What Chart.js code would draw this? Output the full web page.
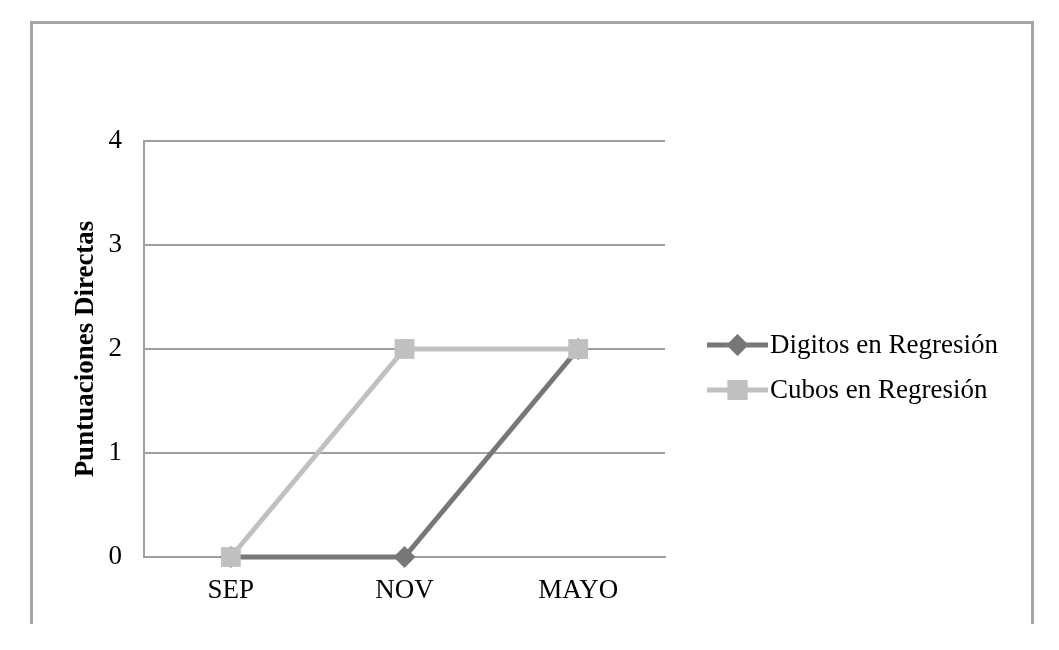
<!DOCTYPE html>
<html lang="es">
<head>
    <meta charset="UTF-8">
    <title>Puntuaciones Directas</title>
    <script src="https://cdn.jsdelivr.net/npm/chart.js@4.4.0/dist/chart.umd.min.js"></script>
    <style>
        body {
            margin: 0;
            background: #fff;
        }
        .wrap {
            position: relative;
            width: 1059px;
            height: 650px;
        }
        .frame {
            position: absolute;
            left: 30px;
            top: 21px;
            width: 998px;
            height: 600px;
            border: 3px solid #a6a6a6;
            border-bottom: none;
        }
        canvas {
            position: absolute;
            left: 0;
            top: 0;
        }
    </style>
</head>
<body>
    <div class="wrap">
        <div class="frame"></div>
        <canvas id="chart" width="1059" height="650"></canvas>
    </div>

    <script>
        'use strict';

        // categorias y series
        const meses = ['SEP', 'NOV', 'MAYO'];
        const digitos = [0, 0, 2];
        const cubos = [0, 2, 2];
        const yTicks = [0, 1, 2, 3, 4];

        const FONT = "'Liberation Serif', 'Times New Roman', serif";
        const DARK = '#777777';
        const LIGHT = '#c0c0c0';

        // leyenda a la derecha: linea + marcador + texto
        const legendaPlugin = {
            id: 'legenda',
            afterDraw(chart) {
                const ctx = chart.ctx;
                const x0 = 707, x1 = 768;
                const filas = [345, 390];
                chart.data.datasets.forEach((ds, i) => {
                    const y = filas[i];
                    ctx.save();
                    ctx.strokeStyle = ds.borderColor;
                    ctx.lineWidth = ds.borderWidth;
                    ctx.beginPath();
                    ctx.moveTo(x0, y);
                    ctx.lineTo(x1, y);
                    ctx.stroke();
                    Chart.helpers.drawPoint(ctx, {
                        pointStyle: ds.pointStyle,
                        radius: ds.pointRadius,
                        borderWidth: 0
                    }, (x0 + x1) / 2, y);
                    ctx.fillStyle = ds.pointBackgroundColor;
                    ctx.fill();
                    ctx.fillStyle = '#000';
                    ctx.font = '27px ' + FONT;
                    ctx.textBaseline = 'middle';
                    ctx.fillText(ds.label, x1 + 2, y + 1);
                    ctx.restore();
                });
            }
        };

        new Chart(document.getElementById('chart'), {
            type: 'line',
            data: {
                labels: meses,
                datasets: [{
                    label: 'Digitos en Regresión',
                    data: digitos,
                    borderColor: DARK,
                    backgroundColor: DARK,
                    pointBackgroundColor: DARK,
                    pointBorderColor: DARK,
                    borderWidth: 5,
                    pointStyle: 'rectRot',
                    pointRadius: 11,
                    pointBorderWidth: 0,
                    order: 1,
                    clip: false
                }, {
                    label: 'Cubos en Regresión',
                    data: cubos,
                    borderColor: LIGHT,
                    backgroundColor: LIGHT,
                    pointBackgroundColor: LIGHT,
                    pointBorderColor: LIGHT,
                    borderWidth: 5,
                    pointStyle: 'rect',
                    pointRadius: 14,
                    pointBorderWidth: 0,
                    order: 0,
                    clip: false
                }]
            },
            options: {
                responsive: false,
                animation: false,
                layout: { padding: { top: 141, right: 394, bottom: 0, left: 0 } },
                plugins: {
                    legend: { display: false },
                    tooltip: { enabled: false }
                },
                scales: {
                    x: {
                        offset: true,
                        grid: { display: false },
                        border: { display: true, color: '#a0a0a0', width: 2 },
                        ticks: {
                            color: '#000',
                            font: { family: FONT, size: 27 },
                            padding: 10
                        },
                        afterFit(scale) { scale.height = 93; }
                    },
                    y: {
                        min: 0,
                        max: 4,
                        afterBuildTicks(scale) {
                            scale.ticks = yTicks.map(v => ({ value: v }));
                        },
                        grid: { color: '#a0a0a0', lineWidth: 2, drawTicks: false },
                        border: { display: true, color: '#a0a0a0', width: 2 },
                        ticks: {
                            color: '#000',
                            font: { family: FONT, size: 27 },
                            padding: 22
                        },
                        title: {
                            display: true,
                            text: 'Puntuaciones Directas',
                            color: '#000',
                            font: { family: FONT, size: 27, weight: 'bold' },
                            padding: { top: 70, bottom: 0 }
                        },
                        afterFit(scale) { scale.width = 144; }
                    }
                }
            },
            plugins: [legendaPlugin]
        });
    </script>
</body>
</html>
